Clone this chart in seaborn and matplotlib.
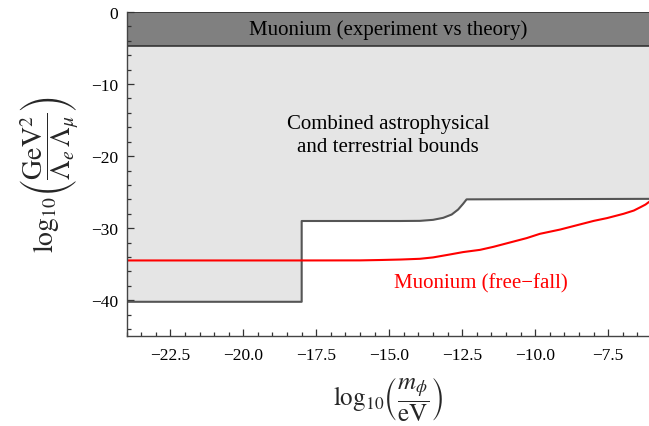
import matplotlib
matplotlib.use("Agg")
import matplotlib.pyplot as plt
import seaborn as sns
import pandas as pd
from matplotlib.ticker import MultipleLocator, FuncFormatter

# limites del grafico
x_min, x_max = -24.0, -6.1
y_min, y_max = -44.9, 0.0

# banda de muonium (experimento vs teoria)
banda_superior = 0.0
banda_inferior = -4.8

# borde de las cotas combinadas (astrofisicas y terrestres)
cota_x = [-24.0, -18.0, -18.0, -16.0, -14.63, -13.95, -13.5, -13.15,
          -12.86, -12.64, -12.47, -12.35, -6.1]
cota_y = [-40.2, -40.2, -29.0, -29.0, -29.0, -28.98, -28.84, -28.56,
          -28.1, -27.41, -26.62, -26.0, -25.93]

# muonium en caida libre
caida_x = [-24.0, -18.0, -16.0, -15.33, -14.6, -13.95, -13.5, -12.92,
           -12.47, -11.89, -11.43, -10.29, -9.84, -9.14, -8.69, -7.99,
           -7.54, -6.97, -6.62, -6.39, -6.22, -6.08]
caida_y = [-34.47, -34.47, -34.46, -34.41, -34.34, -34.24, -34.05, -33.64,
           -33.31, -33.0, -32.58, -31.37, -30.78, -30.18, -29.71, -28.98,
           -28.6, -28.0, -27.55, -27.08, -26.72, -26.3]

sns.set_style("ticks")
plt.rcParams["font.family"] = ["Liberation Serif", "DejaVu Serif"]
plt.rcParams["mathtext.fontset"] = "stix"

fig = plt.figure(figsize=(6.49, 4.27), dpi=100)
ax = fig.add_axes([0.195, 0.2115, 0.805, 0.7585])
ax.set_axisbelow(False)

# region excluida (gris claro)
ax.fill_between(cota_x, cota_y, banda_inferior, color="#e5e5e5", lw=0, zorder=0.5)

# banda oscura
ax.fill_between([x_min, x_max], banda_inferior, banda_superior,
                color="#808080", lw=0, zorder=0.6)
ax.plot([x_min, x_max], [banda_inferior, banda_inferior], color="#333333", lw=1.2, zorder=0.7)
ax.plot([x_min, x_max], [banda_superior, banda_superior], color="#333333", lw=1.2, zorder=0.7)

df_cota = pd.DataFrame({"x": cota_x, "y": cota_y})
df_caida = pd.DataFrame({"x": caida_x, "y": caida_y})

sns.lineplot(data=df_cota, x="x", y="y", sort=False, estimator=None,
             color="#555555", lw=1.5, ax=ax, zorder=4)
sns.lineplot(data=df_caida, x="x", y="y", sort=False, estimator=None,
             color="#ff0000", lw=1.5, ax=ax, zorder=5)

ax.text((x_min + x_max) / 2, -2.4, "Muonium (experiment vs theory)",
        ha="center", va="center", fontsize=15, color="black", zorder=6)
ax.text((x_min + x_max) / 2, -17.1, "Combined astrophysical\nand terrestrial bounds",
        ha="center", va="center", fontsize=15, color="black",
        linespacing=1.3, zorder=6)
ax.text(-11.86, -37.6, "Muonium (free\u2212fall)", ha="center", va="center",
        fontsize=15, color="#ff0000", zorder=6)

ax.set_xlim(x_min, x_max)
ax.set_ylim(y_min, y_max)

ax.xaxis.set_major_locator(MultipleLocator(2.5))
ax.xaxis.set_minor_locator(MultipleLocator(0.5))
ax.yaxis.set_major_locator(MultipleLocator(10))
ax.yaxis.set_minor_locator(MultipleLocator(2))

ax.xaxis.set_major_formatter(FuncFormatter(lambda v, p: f"{v:.1f}".replace("-", "\u2212")))
ax.yaxis.set_major_formatter(FuncFormatter(lambda v, p: f"{v:.0f}".replace("-", "\u2212")))

ax.tick_params(which="both", direction="in", colors="#333333", labelcolor="black",
               labelsize=12.5, width=0.9)
ax.tick_params(which="major", length=5)
ax.tick_params(which="minor", length=3)
ax.tick_params(axis="x", pad=8)
ax.tick_params(axis="y", pad=6)

sns.despine(ax=ax, top=True, right=True)
for lado in ["left", "bottom"]:
    ax.spines[lado].set_color("#444444")
    ax.spines[lado].set_linewidth(1.0)
    ax.spines[lado].set_zorder(7)

ax.set_xlabel(r"$\log_{10}\!\left(\dfrac{m_\phi}{\mathrm{eV}}\right)$", fontsize=18, labelpad=8)
ax.set_ylabel(r"$\log_{10}\!\left(\dfrac{\mathrm{GeV}^2}{\Lambda_e\,\Lambda_\mu}\right)$",
              fontsize=20, labelpad=8)

plt.savefig("out.png", dpi=100)
